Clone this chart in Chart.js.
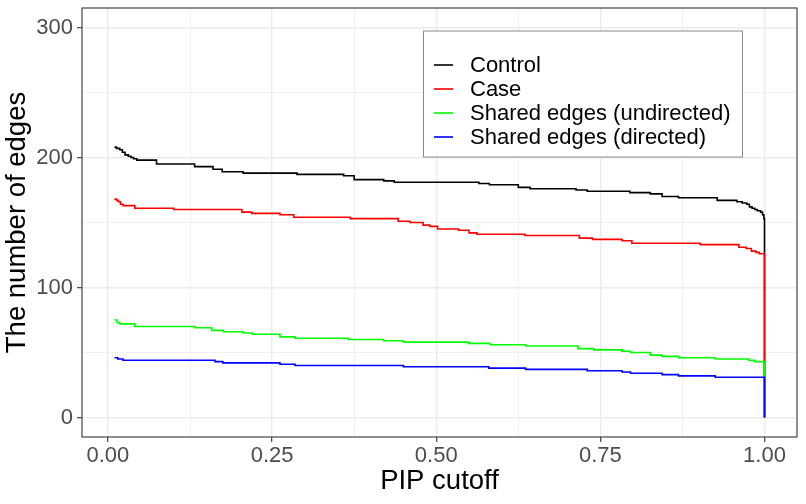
<!DOCTYPE html>
<html>
<head>
<meta charset="utf-8">
<script src="https://cdn.jsdelivr.net/npm/chart.js@4.4.0/dist/chart.umd.min.js"></script>
<style>
  html, body { margin: 0; padding: 0; background: #fff; }
</style>
</head>
<body>
<canvas id="myChart" width="806" height="504"></canvas>
<script>
// series labels / colours
var seriesNames = ["Control", "Case", "Shared edges (undirected)", "Shared edges (directed)"];
var seriesColors = ["#000000", "#FF0000", "#00FF00", "#0000FF"];

// step breakpoints (value holds until the next x)
var controlX = [0.010, 0.013, 0.018, 0.022, 0.026, 0.031, 0.035, 0.039, 0.044, 0.074, 0.132, 0.160, 0.174, 0.206, 0.288, 0.359, 0.375, 0.420, 0.436, 0.565, 0.581, 0.625, 0.643, 0.713, 0.730, 0.795, 0.826, 0.844, 0.869, 0.928, 0.958, 0.966, 0.973, 0.977, 0.981, 0.985, 0.989, 0.994, 0.997, 0.999, 1.000];
var controlY = [208, 207, 206, 204, 202, 201, 200, 199, 198, 195, 193, 191, 189, 188, 187, 186, 183, 182, 181, 180, 179, 177, 176, 175, 174, 173, 172, 170, 169, 167, 166, 165, 164, 162, 161, 160, 159, 158, 156, 153, 0];

var caseX = [0.010, 0.013, 0.016, 0.019, 0.023, 0.041, 0.100, 0.204, 0.219, 0.262, 0.283, 0.369, 0.442, 0.460, 0.480, 0.490, 0.502, 0.534, 0.550, 0.562, 0.635, 0.718, 0.738, 0.783, 0.798, 0.902, 0.961, 0.972, 0.980, 0.987, 0.992, 1.000];
var caseY = [168, 167, 166, 164, 163, 161, 160, 158, 157, 156, 154, 153, 151, 150, 148, 147, 145, 144, 142, 141, 140, 138, 137, 136, 134, 133, 131, 130, 128, 127, 126, 0];

var undirectedX = [0.010, 0.014, 0.018, 0.041, 0.077, 0.133, 0.158, 0.176, 0.206, 0.220, 0.262, 0.285, 0.366, 0.420, 0.450, 0.549, 0.582, 0.636, 0.716, 0.740, 0.783, 0.796, 0.826, 0.844, 0.869, 0.925, 0.976, 0.985, 1.000];
var undirectedY = [75, 73, 72, 70, 70, 69, 67, 66, 65, 64, 62, 61, 60, 59, 58, 57, 56, 55, 53, 52, 51, 50, 48, 47, 46, 45, 44, 43, 0];

var directedX = [0.010, 0.015, 0.023, 0.163, 0.175, 0.262, 0.285, 0.450, 0.580, 0.636, 0.730, 0.783, 0.796, 0.844, 0.869, 0.925, 1.000];
var directedY = [46, 45, 44, 43, 42, 41, 40, 39, 38, 37, 36, 35, 34, 33, 32, 31, 0];

// axis ticks (major + minor grid)
var xTicks = [0, 0.125, 0.25, 0.375, 0.5, 0.625, 0.75, 0.875, 1];
var xMajor = [0, 0.25, 0.5, 0.75, 1];
var yTicks = [0, 50, 100, 150, 200, 250, 300];
var yMajor = [0, 100, 200, 300];

var FONT = "'Liberation Sans', Arial, Helvetica, sans-serif";

function toPoints(xs, ys) {
  return xs.map(function (x, i) { return { x: x, y: ys[i] }; });
}

var allX = [controlX, caseX, undirectedX, directedX];
var allY = [controlY, caseY, undirectedY, directedY];

var datasets = seriesNames.map(function (name, i) {
  return {
    label: name,
    data: toPoints(allX[i], allY[i]),
    borderColor: seriesColors[i],
    borderWidth: 1.6,
    pointRadius: 0,
    stepped: true,
    fill: false,
    order: seriesNames.length - i // last series on top, like ggplot
  };
});

function isMajor(list, v) {
  return list.some(function (m) { return Math.abs(m - v) < 1e-9; });
}

// panel border + legend box drawn like ggplot theme_bw
var panelAndLegend = {
  id: "panelAndLegend",
  afterDraw: function (chart) {
    var ctx = chart.ctx;
    var a = chart.chartArea;
    ctx.save();
    ctx.strokeStyle = "#333333";
    ctx.lineWidth = 1.1;
    ctx.strokeRect(a.left, a.top, a.right - a.left, a.bottom - a.top);

    var box = { left: 423.5, top: 31, w: 319, h: 126 };
    ctx.fillStyle = "#ffffff";
    ctx.fillRect(box.left, box.top, box.w, box.h);
    ctx.strokeStyle = "#8a8a8a";
    ctx.lineWidth = 1;
    ctx.strokeRect(box.left, box.top, box.w, box.h);

    ctx.font = "22px " + FONT;
    ctx.textBaseline = "middle";
    ctx.textAlign = "left";
    seriesNames.forEach(function (name, i) {
      var y = box.top + 34 + i * 24;
      ctx.strokeStyle = seriesColors[i];
      ctx.lineWidth = 1.6;
      ctx.beginPath();
      ctx.moveTo(434, y);
      ctx.lineTo(453, y);
      ctx.stroke();
      ctx.fillStyle = "#000000";
      ctx.fillText(name, 470, y + 1);
    });
    ctx.restore();
  }
};

var ctx = document.getElementById("myChart").getContext("2d");
var chart = new Chart(ctx, {
  type: "line",
  data: { datasets: datasets },
  plugins: [panelAndLegend],
  options: {
    responsive: false,
    animation: false,
    layout: { padding: { left: 0, top: 8, right: 9, bottom: 0 } },
    plugins: {
      legend: { display: false },
      tooltip: { enabled: false }
    },
    scales: {
      x: {
        type: "linear",
        min: -0.0395,
        max: 1.0495,
        afterFit: function (scale) {
          scale.height = 67;
          scale.paddingLeft = 0;
          scale.paddingRight = 0;
        },
        afterBuildTicks: function (scale) {
          scale.ticks = xTicks.map(function (v) { return { value: v }; });
        },
        ticks: {
          autoSkip: false,
          maxRotation: 0,
          padding: 1,
          color: "#4D4D4D",
          font: { family: FONT, size: 22 },
          callback: function (v) { return isMajor(xMajor, v) ? v.toFixed(2) : ""; }
        },
        grid: {
          color: "#EBEBEB",
          lineWidth: function (c) { return c.tick && isMajor(xMajor, c.tick.value) ? 1.4 : 0.7; },
          tickColor: function (c) { return c.tick && isMajor(xMajor, c.tick.value) ? "#333333" : "rgba(0,0,0,0)"; },
          tickLength: 5,
          tickWidth: 1.1
        },
        border: { display: false },
        title: {
          display: true,
          text: "PIP cutoff",
          color: "#000000",
          font: { family: FONT, size: 27.5 },
          padding: { top: 0, bottom: 6 }
        }
      },
      y: {
        type: "linear",
        min: -15,
        max: 315,
        afterFit: function (scale) {
          scale.width = 82;
          scale.paddingTop = 0;
          scale.paddingBottom = 0;
        },
        afterBuildTicks: function (scale) {
          scale.ticks = yTicks.map(function (v) { return { value: v }; });
        },
        ticks: {
          autoSkip: false,
          padding: 4,
          color: "#4D4D4D",
          font: { family: FONT, size: 22 },
          callback: function (v) { return isMajor(yMajor, v) ? String(v) : ""; }
        },
        grid: {
          color: "#EBEBEB",
          lineWidth: function (c) { return c.tick && isMajor(yMajor, c.tick.value) ? 1.4 : 0.7; },
          tickColor: function (c) { return c.tick && isMajor(yMajor, c.tick.value) ? "#333333" : "rgba(0,0,0,0)"; },
          tickLength: 5,
          tickWidth: 1.1
        },
        border: { display: false },
        title: {
          display: true,
          text: "The number of edges",
          color: "#000000",
          font: { family: FONT, size: 27.5 },
          padding: { top: 1, bottom: 0 }
        }
      }
    }
  }
});
</script>
</body>
</html>
